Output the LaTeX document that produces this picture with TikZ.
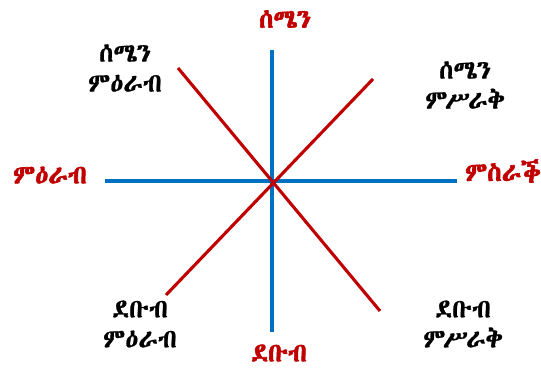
\documentclass[tikz,border=0pt]{standalone}
\usepackage{fontspec}
\newfontfamily\ethfont[FakeBold=1]{Abyssinica SIL}
\newfontfamily\ethbold[FakeBold=2.5]{Abyssinica SIL}
\definecolor{axblue}{HTML}{0070C0}
\definecolor{axred}{HTML}{C00000}
\tikzset{
  axis/.style={draw=axblue, line width=3.5pt},
  diag/.style={draw=axred, line width=3.1pt},
  cardinal/.style={text=axred, font=\ethbold\fontsize{26}{28}\selectfont, inner sep=0pt},
  inter/.style={text=black, font=\ethfont\fontsize{26}{30}\selectfont, align=center, inner sep=0pt},
}
\begin{document}
\begin{tikzpicture}[x=1pt,y=-1pt]
\useasboundingbox (0,0) rectangle (541,370);
\coordinate (c) at (272,181);
\coordinate (n) at (272,50);
\coordinate (s) at (272,332);
\coordinate (w) at (105,181);
\coordinate (e) at (457,181);
\coordinate (nw) at (178,68);
\coordinate (se) at (380,311);
\coordinate (ne) at (373,79);
\coordinate (sw) at (166,295);
\draw[axis] (n) -- (s);
\draw[axis] (w) -- (e);
\draw[diag] (nw) -- (se);
\draw[diag] (ne) -- (sw);
\node[cardinal] (tN) at (285,19) {ሰሜን};
\node[cardinal] (tS) at (279,353) {ደቡብ};
\node[cardinal] (tW) at (50,175) {ምዕራብ};
\node[cardinal] (tE) at (503,171) {ምስራቕ};
\node[inter] (tNW) at (125,68) {ሰሜን\\ምዕራብ};
\node[inter] (tNE) at (465,85) {ሰሜን\\ምሥራቅ};
\node[inter] (tSW) at (140,324) {ደቡብ\\ምዕራብ};
\node[inter] (tSE) at (463,324) {ደቡብ\\ምሥራቅ};
\end{tikzpicture}
\end{document}
